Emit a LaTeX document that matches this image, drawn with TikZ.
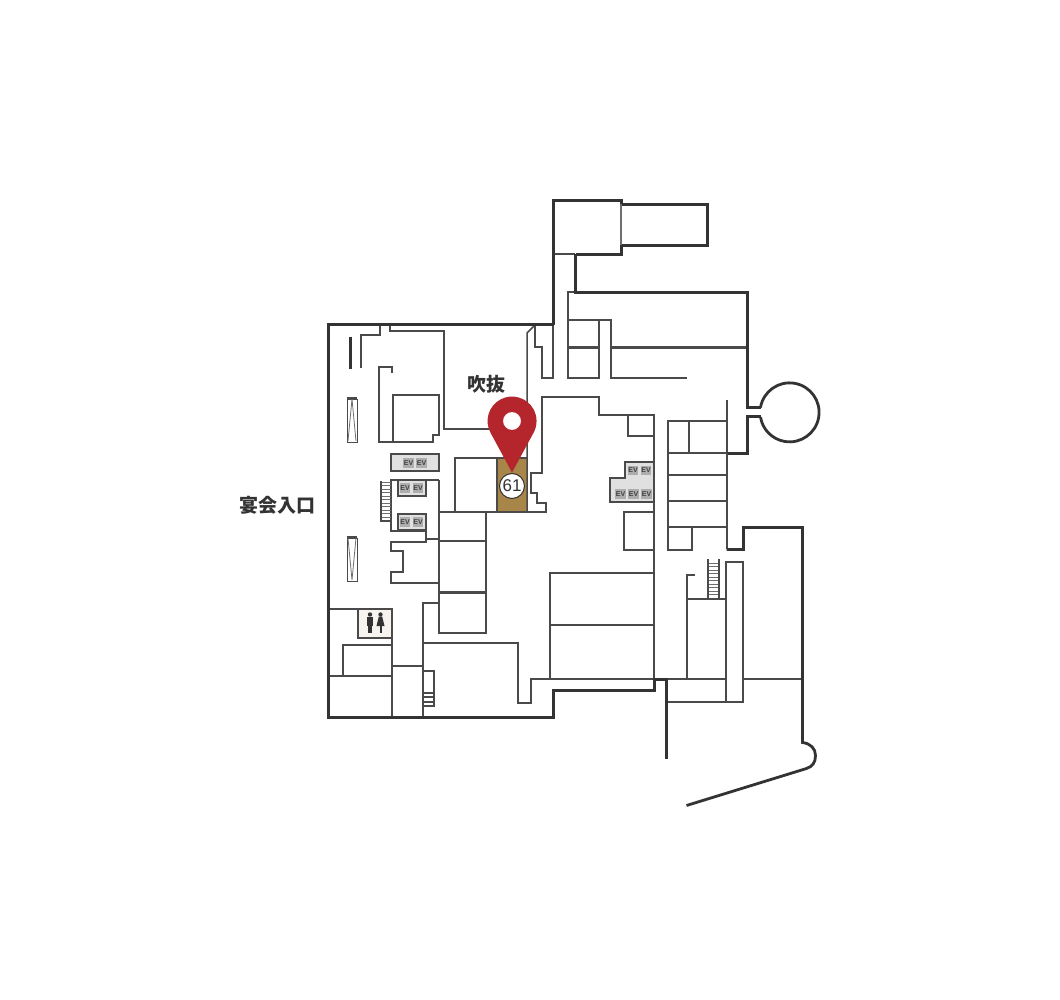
\documentclass[tikz,border=0pt]{standalone}
\usepackage{fontspec}
\setsansfont{Liberation Sans}
\newfontfamily\cjk{Noto Sans CJK JP}
\definecolor{wallColor}{HTML}{333333}
\definecolor{lineColor}{HTML}{4A4A4A}
\definecolor{pinRed}{HTML}{B5262C}
\definecolor{shopBrown}{HTML}{A8864A}
\definecolor{toiletFloor}{HTML}{F7F3EE}
\begin{document}
\begin{tikzpicture}[x=1pt,y=-1pt]
    \tikzset{thickWall/.style = {draw=wallColor,line width=2.8pt,shift={(0.5,0.5)}}}
    \tikzset{midWall/.style = {draw=lineColor,line width=2.7pt,shift={(0.5,0.5)}}}
    \tikzset{thinWall/.style = {draw=lineColor,line width=1.5pt}}
    \tikzset{hairWall/.style = {draw=lineColor!80,line width=0.8pt}}
    \tikzset{escalator/.style = {draw=lineColor,line width=1pt}}
    \tikzset{evBox/.style = {thinWall,line width=1.8pt,fill=black!12}}
    \tikzset{evTag/.style = {fill=black!32,text=black!75,font=\sffamily\bfseries\fontsize{7}{7}\selectfont,inner sep=0pt,minimum width=10.5pt,minimum height=9.5pt}}
    \tikzset{placeLabel/.style = {text=wallColor,font=\cjk\bfseries\fontsize{19}{19}\selectfont,inner sep=0pt}}

    \useasboundingbox (0,0) rectangle (1060,1000);

    % floors
    \fill[shopBrown] (497,458) rectangle (527,512);
    \fill[toiletFloor] (358,609) rectangle (392,638);
    \path[evBox] (391,454) rectangle (439,471);
    \path[evBox] (398,480) rectangle (426,496);
    \path[evBox] (398,514) rectangle (426,530);
    \path[evBox] (625,462) -- (654,462) -- (654,502) -- (610,502) -- (610,478) -- (625,478) -- cycle;

    % left part
    \draw[thinWall] (380,324) -- (380,335) -- (361,335) -- (361,368);
    \draw[thickWall] (350,336) -- (350,368);
    \draw[thinWall] (390,324) -- (390,331) -- (444,331) -- (444,429) -- (500,429);
    \draw[thinWall] (392,373) -- (392,367) -- (379,367) -- (379,442) -- (433,442) -- (433,435) -- (439,435) -- (439,395) -- (393,395) -- (393,442);
    \draw[thinWall] (439,480) -- (391,480) -- (391,531) -- (426,531) -- (426,542) -- (391,542) -- (391,551) -- (403,551) -- (403,572) -- (391,572) -- (391,583) -- (439,583);
    \draw[thinWall] (426,539) -- (439,539);
    \draw[thinWall] (439,480) -- (439,633) -- (486,633) -- (486,512);
    \draw[thinWall] (439,541) -- (486,541);
    \draw[midWall] (439,592) -- (486,592);
    \draw[thinWall] (439,512) -- (546,512) -- (546,503) -- (537,503) -- (537,493) -- (531,493) -- (531,473) -- (542,473) -- (542,397) -- (599,397) -- (599,415) -- (654,415) -- (654,679);
    \draw[thinWall] (527,458) -- (455,458) -- (455,512);
    \draw[thinWall] (497,458) -- (497,512);
    \draw[thinWall] (527,512) -- (527,333) -- (534,326);
    \draw[thinWall] (535,324) -- (535,347) -- (542,347) -- (542,378) -- (553,378) -- (553,324);

    % lower left
    \draw[thinWall] (328,609) -- (392,609) -- (392,717);
    \draw[thinWall] (358,609) -- (358,638) -- (392,638);
    \draw[thinWall] (343,676) -- (343,645) -- (392,645);
    \draw[thinWall] (328,676) -- (392,676);
    \draw[thinWall] (392,666) -- (423,666);
    \draw[thinWall] (439,603) -- (423,603) -- (423,717);
    \draw[thinWall] (423,671) -- (434,671) -- (434,706) -- (423,706);
    \foreach \y in {693,697,702}
        \draw[thinWall] (423,\y) -- (434,\y);
    \draw[thinWall] (423,643) -- (518,643) -- (518,703) -- (531,703) -- (531,679) -- (654,679);

    % centre rooms
    \draw[thinWall] (628,415) -- (628,436) -- (654,436);
    \draw[thinWall] (654,512) -- (624,512) -- (624,550) -- (654,550);
    \draw[thinWall] (654,573) -- (550,573) -- (550,679);
    \draw[thinWall] (550,625) -- (654,625);

    % upper right
    \draw[thinWall] (575,292) -- (568,292) -- (568,378) -- (599,378) -- (599,320);
    \draw[thinWall] (568,320) -- (611,320) -- (611,378) -- (687,378);
    \draw[midWall] (568,347) -- (599,347);
    \draw[midWall] (611,347) -- (747,347);
    \draw[thinWall] (553,254) -- (575,254);
    \draw[hairWall,line width=1.2pt] (621,204) -- (621,245);

    % right rooms
    \draw[thinWall] (727,400) -- (727,453);
    \draw[thinWall] (727,421) -- (668,421) -- (668,550) -- (692,550) -- (692,527);
    \draw[thinWall] (689,421) -- (689,452);
    \draw[thinWall] (668,453) -- (727,453);
    \draw[thinWall] (668,475) -- (727,475);
    \draw[thinWall,line width=2.1pt] (668,501) -- (727,501);
    \draw[thinWall] (692,527) -- (727,527);
    \draw[thinWall,line width=2.1pt] (668,527) -- (692,527);
    \draw[thinWall] (695,575) -- (687,575) -- (687,679);
    \draw[thinWall] (687,599) -- (726,599);
    \draw[thinWall] (726,599) -- (726,562) -- (743,562) -- (743,702) -- (667,702);
    \draw[thinWall] (726,599) -- (726,702);
    \draw[thinWall] (666,679) -- (726,679);
    \draw[thinWall] (743,679) -- (802,679);

    % stairs
    \foreach \y in {482,485.5,...,520}
        \draw[hairWall] (381,\y) -- (391,\y);
    \draw[thinWall] (381,481) -- (381,521) -- (391,521);
    \foreach \y in {563,566.5,...,597}
        \draw[hairWall] (708,\y) -- (719,\y);
    \draw[thinWall] (708,559) -- (708,599);
    \draw[thinWall] (719,559) -- (719,599);

    % escalators
    \draw[escalator] (347,399) rectangle (357,442);
    \draw[hairWall] (352,399) -- (348,441) (352,399) -- (356,441);
    \draw[thinWall] (347,398) -- (357,398);
    \draw[escalator] (347,538) rectangle (357,581);
    \draw[hairWall] (348,538) -- (352,580) -- (356,538);
    \draw[thinWall] (347,537) -- (357,537);

    % outer wall
    \draw[thickWall] (575,254) -- (575,292) -- (747,292) -- (747,407) -- (760,407);
    \draw[thickWall] (621,204) -- (707,204) -- (707,245) -- (621,245);
    \draw[thickWall] (553,324) -- (328,324) -- (328,717) -- (553,717) -- (553,690) -- (654,690) -- (654,679) -- (666,679) -- (666,758);
    \draw[thickWall] (553,324) -- (553,200) -- (621,200) -- (621,204);
    \draw[thickWall] (621,245) -- (621,254) -- (575,254);
    \draw[thickWall] (760,416) -- (747,416) -- (747,453) -- (726,453);
    \draw[thinWall,line width=2.1pt] (727,453) -- (727,549);
    \draw[thickWall] (726,549) -- (743,549) -- (743,527) -- (802,527) -- (802,742) .. controls (810,743) and (815,748) .. (815,755) .. controls (815,762) and (812,766) .. (806,768) -- (686,805);
    \draw[thickWall] (760,407) arc[start angle=189.5,end angle=530.5,radius=29.5];

    % lifts
    \foreach \i/\x/\y in {a/408.5/463,b/421.5/463,c/405/488,d/418/488,e/405/522,f/418/522,g/633/470.5,h/646/470.5,i/620.5/494,j/633.5/494,k/646.5/494}
        \node[evTag] (ev\i) at (\x,\y) {EV};

    % toilet
    \fill[wallColor] (370,614.5) circle (2.2);
    \fill[wallColor] (367,617) rectangle (373,626);
    \fill[wallColor] (368,626) rectangle (372,632.5);
    \fill[wallColor] (380.5,614.5) circle (2.2);
    \fill[wallColor] (378.8,616.5) -- (382.2,616.5) -- (384.5,626) -- (376.5,626) -- cycle;
    \fill[wallColor] (379.5,626) rectangle (381.5,632.5);

    % labels
    \node[placeLabel] (atrium) at (486,384) {吹抜};
    \node[placeLabel] (banquet) at (277.5,505) {宴会入口};

    % marker
    \node[circle,draw=wallColor,line width=1pt,fill=white,minimum size=25pt,inner sep=0pt,font=\sffamily\fontsize{17}{17}\selectfont,text=wallColor] (shop61) at (512,486) {61};
    \fill[pinRed,even odd rule] (512,472.5) -- (490.5,432.7) arc[start angle=151.6,end angle=388.4,radius=24.5] -- cycle (512,421) circle (9);
\end{tikzpicture}
\end{document}
